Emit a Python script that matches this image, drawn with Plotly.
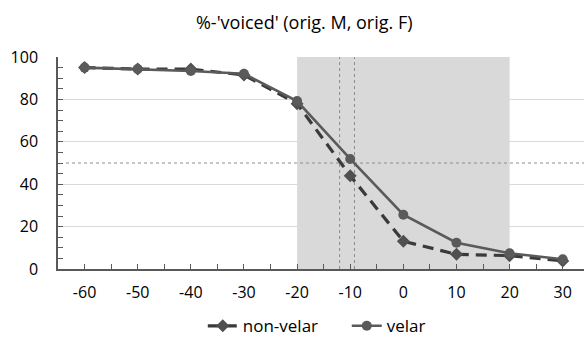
import plotly.graph_objects as go

x_vals = [-60, -50, -40, -30, -20, -10, 0, 10, 20, 30]
non_velar = [95.0, 94.3, 94.3, 91.5, 78.0, 44.0, 13.1, 6.9, 6.3, 3.8]
velar = [95.0, 94.3, 93.4, 92.1, 79.2, 51.9, 25.6, 12.4, 7.4, 4.6]
title_text = "%-'voiced' (orig. M, orig. F)"
shade_range = [-20, 20]
vlines = [-12, -9.2]
hline = 50

FONT = "Open Sans"

fig = go.Figure()
fig.add_trace(go.Scatter(
    x=x_vals, y=non_velar, name="non-velar", mode="lines+markers",
    line=dict(color="#3a3a3a", width=3.2, dash="11px,7px"),
    marker=dict(symbol="diamond", size=10, color="#505050"),
))
fig.add_trace(go.Scatter(
    x=x_vals, y=velar, name="velar", mode="lines+markers",
    line=dict(color="#5a5a5a", width=2.6),
    marker=dict(symbol="circle", size=10, color="#5a5a5a"),
))

shapes = [
    dict(type="rect", xref="x", yref="y", x0=shade_range[0], x1=shade_range[1],
         y0=0, y1=100, fillcolor="#d9d9d9", line=dict(width=0), layer="below"),
    dict(type="line", xref="x", yref="y", x0=-63.5, x1=34, y0=hline, y1=hline,
         line=dict(color="#8c8c8c", width=1, dash="dot"), layer="between"),
]
for v in vlines:
    shapes.append(dict(type="line", xref="x", yref="y", x0=v, x1=v, y0=0, y1=100,
                       line=dict(color="#8c8c8c", width=1, dash="dot"), layer="between"))

fig.update_layout(
    width=584, height=338,
    margin=dict(l=58, r=0, t=57, b=69, autoexpand=False),
    paper_bgcolor="white", plot_bgcolor="white",
    font=dict(family=FONT, size=16, color="#000000"),
    title=dict(text=title_text, x=0.521, xanchor="center", y=0.932, yanchor="middle",
               font=dict(family=FONT, size=18, color="#000000")),
    shapes=shapes,
    showlegend=True,
    legend=dict(orientation="h", x=0.549, xanchor="center",
                y=-0.27, yanchor="middle", entrywidth=99, entrywidthmode="pixels",
                font=dict(family=FONT, size=17), itemwidth=30, tracegroupgap=0,
                bgcolor="rgba(0,0,0,0)"),
)
fig.update_xaxes(
    range=[-65, 34], tickmode="array", tickvals=x_vals, ticktext=[str(v) for v in x_vals],
    showgrid=False, zeroline=False, showline=True, linecolor="#595959", linewidth=1.5,
    ticks="inside", ticklen=5, tickcolor="#595959", ticklabelstandoff=8,
    minor=dict(dtick=5, tick0=0, ticks="inside", ticklen=5, tickcolor="#595959", showgrid=False),
)
fig.update_yaxes(
    range=[0, 100], tickmode="linear", tick0=0, dtick=20,
    showgrid=True, gridcolor="#d9d9d9", gridwidth=1, zeroline=False,
    showline=True, linecolor="#595959", linewidth=1.5,
    ticks="inside", ticklen=5, tickcolor="#595959", ticklabelstandoff=15,
    minor=dict(dtick=5, tick0=0, ticks="inside", ticklen=5, tickcolor="#595959", showgrid=False),
)

fig.write_html("out.html")
